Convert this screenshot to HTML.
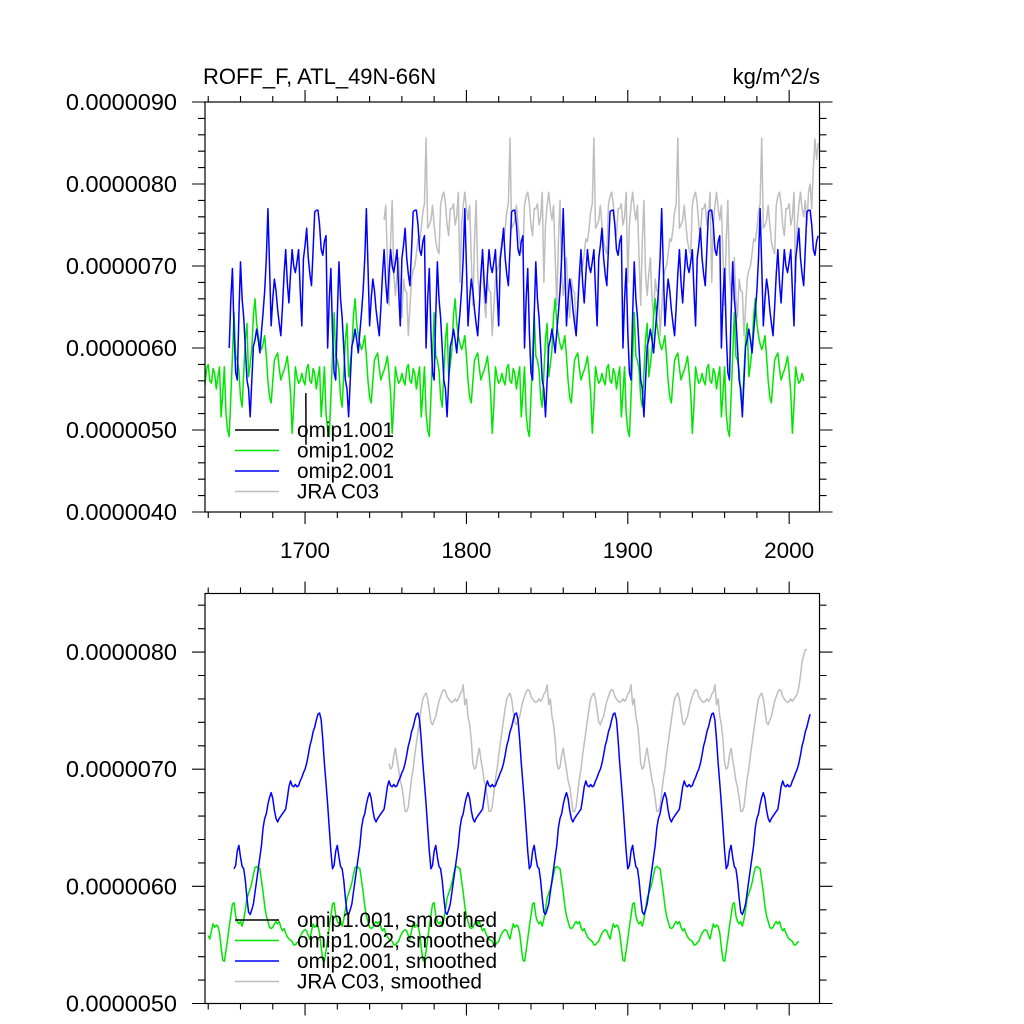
<!DOCTYPE html>
<html><head><meta charset="utf-8"><title>ROFF_F ATL_49N-66N</title>
<style>
html,body{margin:0;padding:0;background:#fff;}
svg{display:block;font-family:"Liberation Sans",Arial,sans-serif;}
</style></head>
<body>
<svg id="chart" width="1024" height="1024" viewBox="0 0 1024 1024">
  <rect x="0" y="0" width="1024" height="1024" fill="#fff"/>
  <g id="top"></g>
  <g id="bot"></g>
</svg>
<script>
// ---- data (values in units of 1e-6 kg/m^2/s), repeating forcing cycles ----
const greenStart = 1638; // omip1.002 raw, 62-year cycle, 6 cycles
const greenCycle = [5.55,5.75,5.8,5.6,5.57,5.75,5.69,5.5,5.65,5.77,5.16,5.45,5.77,5.2,5.0,4.92,5.4,5.9,6.43,5.9,5.85,5.73,5.4,5.28,5.7,6.1,6.3,5.65,5.8,5.98,6.4,6.6,6.3,6.15,6.05,5.98,6.05,6.15,5.9,5.6,5.4,5.33,5.6,5.85,5.9,5.94,5.75,5.61,5.68,5.73,5.8,5.9,5.7,5.45,4.96,5.3,5.77,5.65,5.57,5.6,5.69,5.6];
const greenCycles = 6;
const blueStart = 1653; // omip2.001 raw, 61-year cycle
const blueCycle = [6.0,6.6,6.97,6.2,5.7,5.61,6.4,7.05,6.6,6.37,6.0,5.61,5.5,5.16,5.6,6.02,6.1,6.23,6.1,5.94,6.2,6.43,6.7,7.09,7.7,7.0,6.27,6.6,6.84,6.7,6.47,6.3,6.15,6.5,6.9,7.2,6.8,6.55,6.9,7.2,7.0,6.92,7.05,7.2,6.7,6.27,7.09,7.25,7.46,7.1,6.9,6.76,7.2,7.66,7.68,7.68,7.5,7.2,7.13,7.3,7.37];
const blueCycles = 6;
const grayStart = 1749; // JRA C03 raw, 52-year cycle
const grayCycle = [7.56,7.74,7.1,6.52,7.3,7.8,6.9,6.64,6.9,7.1,6.6,6.37,6.84,6.7,6.68,6.15,6.5,6.84,6.95,7.0,7.15,7.33,7.3,7.45,7.66,7.76,8.56,7.46,7.5,7.56,7.74,7.5,7.3,7.2,7.15,7.74,7.85,7.9,7.76,7.5,7.37,7.7,7.7,7.76,7.5,7.6,7.9,6.8,7.5,7.74,7.9,7.7];
const grayCycles = 5;
const grayTail = [7.6,7.8,7.5,7.9,8.0,7.7,8.2,8.55,8.3,8.5];
const blackYears = [1700.5,1700.6];
const blackValues = [5.45,4.82];

// smoothed
const greenSmStart = 1640, greenSmEnd = 2006;
const greenSmCycle = [5.63,5.62,5.58,5.55,5.62,5.68,5.65,5.67,5.66,5.6,5.48,5.37,5.36,5.45,5.55,5.66,5.75,5.85,5.86,5.75,5.7,5.68,5.7,5.66,5.72,5.8,5.9,5.94,5.98,6.03,6.1,6.16,6.17,6.16,6.15,6.05,5.95,5.83,5.75,5.7,5.65,5.64,5.65,5.68,5.7,5.68,5.7,5.65,5.62,5.64,5.6,5.57,5.55,5.54,5.53,5.5,5.5,5.52,5.53,5.57,5.6,5.62];
const blueSmStart = 1656, blueSmEnd = 2013;
const blueSmCycle = [6.7,6.5,6.3,6.15,6.18,6.3,6.35,6.25,6.17,6.15,6.05,5.9,5.78,5.76,5.8,5.85,5.95,6.05,6.15,6.25,6.35,6.5,6.58,6.62,6.7,6.76,6.8,6.75,6.65,6.58,6.55,6.58,6.6,6.62,6.64,6.66,6.75,6.85,6.9,6.86,6.85,6.87,6.85,6.86,6.9,6.93,6.97,7.0,7.05,7.12,7.2,7.25,7.32,7.36,7.42,7.47,7.48,7.42,7.25,7.05,6.88];
const graySmStart = 1752, graySmEnd = 2011, graySmCycleStart = 1748;
const graySmCycle = [7.6,7.45,7.38,7.25,7.05,7.0,7.02,7.12,7.18,7.08,7.0,6.9,6.85,6.75,6.64,6.64,6.68,6.8,6.92,7.0,7.12,7.22,7.32,7.42,7.52,7.6,7.63,7.65,7.6,7.5,7.4,7.38,7.42,7.45,7.52,7.58,7.62,7.66,7.68,7.67,7.62,7.6,7.58,7.57,7.58,7.6,7.58,7.6,7.64,7.66,7.72,7.55];
const graySmTailStart = 2004;
const graySmTail = [7.62,7.64,7.7,7.8,7.92,7.97,8.02,8.02];

const topYTicks = [4,5,6,7,8,9];
const botYTicks = [5,6,7,8];
const xTickLabels = [1700,1800,1900,2000];

// ---- scales ----
const X0 = 205, X1 = 819.5, XMIN = 1638, XMAX = 2018.8;
const sx = y => X0 + (y - XMIN) / (XMAX - XMIN) * (X1 - X0);
const P = {
  top: {y0: 102, y1: 512, vmin: 4, vmax: 9},
  bot: {y0: 593.5, y1: 1003.5, vmin: 5, vmax: 8.5}
};
const sy = (p, v) => p.y1 - (v - p.vmin) / (p.vmax - p.vmin) * (p.y1 - p.y0);
const NS = 'http://www.w3.org/2000/svg';
function mk(tag, attrs, parent) {
  const e = document.createElementNS(NS, tag);
  for (const k in attrs) e.setAttribute(k, attrs[k]);
  parent.appendChild(e);
  return e;
}
function cyclic(cycle, start, n) {
  const pts = [];
  for (let c = 0; c < n; c++) for (let i = 0; i < cycle.length; i++) pts.push([start + c * cycle.length + i, cycle[i]]);
  return pts;
}
function cyclicRange(cycle, cstart, from, to) {
  const pts = [];
  for (let y = from; y <= to; y++) { const off = ((y - cstart) % cycle.length + cycle.length) % cycle.length; pts.push([y, cycle[off]]); }
  return pts;
}
function drawLine(g, p, pts, color, name) {
  const d = pts.map((q, i) => (i ? 'L' : 'M') + sx(q[0]).toFixed(2) + ' ' + sy(p, q[1]).toFixed(2)).join('');
  const el = mk('path', {d: d, fill: 'none', stroke: color, 'stroke-width': 1.5, 'stroke-linejoin': 'round'}, g);
  
  
}
function axes(g, p, yticks, withXLabels, minorStep) {
  const fr = mk('rect', {x: X0, y: p.y0, width: X1 - X0, height: p.y1 - p.y0, fill: 'none', stroke: '#000', 'stroke-width': 1.2}, g);
  
  
  let d = '';
  for (let yr = 1640; yr <= XMAX; yr += 20) {
    const x = sx(yr), L = (yr % 100 === 0) ? 12 : 6;
    d += `M${x} ${p.y1}V${p.y1 + L}M${x} ${p.y0}V${p.y0 - L}`;
  }
  for (let v = p.vmin; v <= p.vmax + 1e-9; v += minorStep) {
    const y = sy(p, v), maj = Math.abs(v - Math.round(v)) < 1e-6, L = maj ? 13 : 7;
    d += `M${X0} ${y}H${X0 - L}M${X1} ${y}H${X1 + L}`;
  }
  const t = mk('path', {d: d, stroke: '#000', 'stroke-width': 1.1, fill: 'none'}, g);
  
  
  yticks.forEach(v => {
    const tx = mk('text', {x: 177, y: sy(p, v) + 8, 'text-anchor': 'end', 'font-size': 23.5, fill: '#000'}, g);
    tx.textContent = (v * 1e-6).toFixed(7);
    
    
  });
  if (withXLabels) xTickLabels.forEach(yr => {
    const tx = mk('text', {x: sx(yr), y: 558, 'text-anchor': 'middle', 'font-size': 22.5, fill: '#000'}, g);
    tx.textContent = yr;
    
    
  });
}
function legend(g, y0, labels, colors) {
  labels.forEach((lab, i) => {
    const y = y0 + i * 20.5;
    const ln = mk('line', {x1: 235, x2: 279, y1: y, y2: y, stroke: colors[i], 'stroke-width': 1.6}, g);
    
    
    const tx = mk('text', {x: 297, y: y + 7, 'font-size': 20.8, fill: '#000'}, g);
    tx.textContent = lab;
    
    
  });
}
const colors = ['#000000', '#00e600', '#0000ff', '#bebebe'];
// top panel
const gt = document.getElementById('top');
const grayPts = cyclic(grayCycle, grayStart, grayCycles);
grayTail.forEach((v, i) => grayPts.push([grayStart + grayCycles * grayCycle.length + i, v]));
drawLine(gt, P.top, grayPts, colors[3], 'jra-c03-line');
drawLine(gt, P.top, cyclic(greenCycle, greenStart, greenCycles), colors[1], 'omip1-002-line');
drawLine(gt, P.top, cyclic(blueCycle, blueStart, blueCycles), colors[2], 'omip2-001-line');
drawLine(gt, P.top, blackYears.map((y, i) => [y, blackValues[i]]), colors[0], 'omip1-001-line');
axes(gt, P.top, topYTicks, true, 0.2);
legend(gt, 430, ['omip1.001', 'omip1.002', 'omip2.001', 'JRA C03'], colors);
const t1 = mk('text', {x: 203, y: 84, 'font-size': 22, fill: '#000'}, gt);
t1.textContent = 'ROFF_F, ATL_49N-66N';


const t2 = mk('text', {x: 820, y: 84, 'font-size': 22, 'text-anchor': 'end', fill: '#000'}, gt);
t2.textContent = 'kg/m^2/s';


// bottom panel
const gb = document.getElementById('bot');
const graySm = cyclicRange(graySmCycle, graySmCycleStart, graySmStart, graySmTailStart - 1);
graySmTail.forEach((v, i) => { if (graySmTailStart + i <= graySmEnd) graySm.push([graySmTailStart + i, v]); });
drawLine(gb, P.bot, graySm, colors[3], 'jra-c03-smoothed-line');
drawLine(gb, P.bot, cyclicRange(greenSmCycle, greenStart, greenSmStart, greenSmEnd), colors[1], 'omip1-002-smoothed-line');
drawLine(gb, P.bot, cyclicRange(blueSmCycle, blueStart, blueSmStart, blueSmEnd), colors[2], 'omip2-001-smoothed-line');
axes(gb, P.bot, botYTicks, false, 0.2);
legend(gb, 920, ['omip1.001, smoothed', 'omip1.002, smoothed', 'omip2.001, smoothed', 'JRA C03, smoothed'], colors);
</script>
</body></html>
